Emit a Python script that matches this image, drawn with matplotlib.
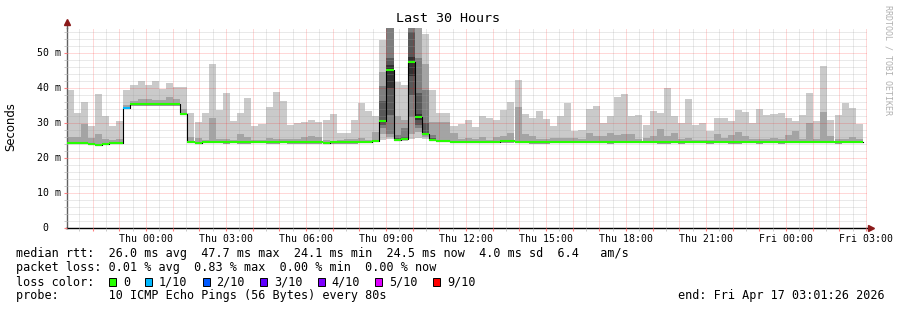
import numpy as np
import matplotlib
matplotlib.use('Agg')
import matplotlib.pyplot as plt
import matplotlib.dates as mdates
from matplotlib import transforms
from matplotlib.patches import Rectangle
from matplotlib.ticker import MultipleLocator, FuncFormatter
from datetime import datetime, timedelta

plt.rcParams['font.family'] = 'DejaVu Sans Mono'

# smokeping bins: 16 min each over the last 30 hours
start = datetime(2026, 4, 15, 21, 1, 26)
end = datetime(2026, 4, 17, 3, 1, 26)
bin_minutes = 16

# median rtt per bin (ms)
rtt_median = [
    24.2, 24.2, 24.3, 24.1, 23.8, 24.0, 24.2, 24.2,
    34.3, 35.5, 35.4, 35.4, 35.4, 35.4, 35.4, 35.4,
    32.7, 24.7, 24.4, 24.5, 24.6, 24.5, 24.5, 24.6,
    24.5, 24.5, 24.6, 24.6, 24.5, 24.5, 24.6, 24.5,
    24.5, 24.5, 24.5, 24.5, 24.4, 24.5, 24.5, 24.5,
    24.5, 24.6, 24.6, 24.9, 30.6, 45.2, 25.2, 25.4,
    47.5, 31.8, 26.9, 25.2, 25.0, 25.0, 24.7, 24.6,
    24.6, 24.6, 24.7, 24.6, 24.6, 24.8, 24.8, 24.6,
    24.6, 24.5, 24.5, 24.5, 24.7, 24.6, 24.6, 24.6,
    24.6, 24.6, 24.6, 24.6, 24.5, 24.6, 24.6, 24.6,
    24.6, 24.6, 24.6, 24.6, 24.7, 24.6, 24.5, 24.6,
    24.6, 24.6, 24.7, 24.7, 24.6, 24.5, 24.6, 24.6,
    24.5, 24.6, 24.6, 24.7, 24.6, 24.6, 24.5, 24.6,
    24.6, 24.5, 24.6, 24.6, 24.6, 24.5, 24.6, 24.6,
]

# fastest ping per bin
rtt_min = [
    23.9, 23.9, 23.9, 23.8, 23.5, 23.7, 23.9, 23.9,
    33.9, 35.0, 35.0, 35.0, 35.0, 35.0, 35.0, 35.0,
    32.3, 24.3, 24.1, 24.2, 24.2, 24.2, 24.1, 24.2,
    24.1, 24.1, 24.2, 24.2, 24.1, 24.1, 24.2, 24.1,
    24.1, 24.1, 24.1, 24.1, 24.0, 24.1, 24.1, 24.1,
    24.1, 24.2, 24.2, 24.5, 25.1, 25.5, 24.8, 24.9,
    25.5, 25.8, 25.5, 24.8, 24.6, 24.6, 24.3, 24.2,
    24.2, 24.2, 24.3, 24.2, 24.2, 24.4, 24.4, 24.2,
    24.2, 24.1, 24.1, 24.1, 24.3, 24.2, 24.2, 24.2,
    24.2, 24.2, 24.2, 24.2, 24.1, 24.2, 24.2, 24.2,
    24.2, 24.2, 24.2, 24.1, 24.1, 24.2, 24.0, 24.2,
    24.2, 24.3, 24.1, 24.2, 24.2, 24.1, 24.1, 24.2,
    24.2, 24.1, 24.2, 24.2, 24.1, 24.2, 24.2, 24.2,
    24.3, 24.2, 24.2, 24.2, 24.1, 24.2, 24.2, 24.2,
]

# second slowest ping per bin
rtt_p9 = [
    26.1, 26.1, 29.7, 25.8, 26.9, 25.4, 25.1, 25.4,
    35.2, 36.4, 36.9, 36.9, 36.5, 36.5, 37.3, 36.9,
    33.9, 26.1, 25.8, 25.1, 31.4, 25.4, 25.4, 25.1,
    26.9, 26.1, 25.1, 25.1, 25.8, 25.4, 25.4, 25.4,
    25.4, 26.1, 26.4, 26.1, 25.1, 24.9, 25.1, 25.4,
    25.4, 25.6, 25.1, 27.5, 44.7, 62.0, 32.0, 31.0,
    61.0, 58.0, 47.0, 30.4, 30.4, 30.4, 27.2, 25.4,
    25.8, 25.4, 26.1, 25.1, 26.1, 26.4, 27.2, 34.7,
    27.0, 26.4, 25.4, 25.4, 25.8, 25.8, 25.8, 25.8,
    25.4, 27.2, 26.4, 26.4, 27.2, 26.7, 27.0, 27.0,
    25.4, 25.8, 26.4, 28.3, 26.4, 27.2, 25.4, 25.8,
    25.1, 25.1, 25.1, 27.0, 25.8, 26.7, 27.5, 26.4,
    25.4, 25.4, 25.4, 25.8, 25.4, 26.6, 27.7, 25.4,
    29.9, 25.4, 33.1, 26.4, 25.4, 25.4, 26.1, 25.4,
]

# slowest ping per bin
rtt_max = [
    39.4, 33.0, 36.0, 29.2, 38.3, 32.0, 29.2, 30.6,
    39.4, 40.9, 42.0, 40.9, 42.0, 39.8, 41.4, 40.3,
    40.3, 32.9, 30.3, 33.0, 46.9, 33.7, 38.5, 30.5,
    32.9, 37.1, 29.2, 29.8, 34.5, 38.9, 36.3, 29.5,
    29.9, 30.3, 30.9, 30.3, 31.0, 32.6, 27.2, 27.2,
    30.9, 35.7, 33.4, 32.1, 53.8, 66.0, 41.8, 41.0,
    64.0, 64.0, 55.4, 39.4, 33.0, 32.8, 29.2, 29.8,
    30.9, 29.0, 32.0, 31.4, 30.9, 33.8, 36.0, 42.3,
    32.6, 31.4, 33.4, 31.1, 29.2, 32.0, 35.7, 27.7,
    28.0, 34.0, 34.9, 29.9, 32.0, 37.5, 38.3, 32.0,
    32.3, 29.5, 33.4, 32.9, 40.0, 32.0, 30.0, 36.9,
    29.5, 30.0, 27.7, 31.4, 31.4, 30.6, 33.8, 33.1,
    30.0, 34.0, 32.3, 32.6, 32.9, 31.4, 30.6, 32.3,
    38.6, 30.6, 46.3, 30.9, 32.3, 35.7, 34.3, 29.8,
]

# all 10 sorted pings for the bins around the 09:00-10:00 spikes
spike_pings = {
    44: [25.1, 27.0, 28.5, 29.5, 30.3, 31.0, 36.3, 40.6, 44.7, 53.8],
    45: [25.5, 26.0, 27.0, 32.3, 40.0, 46.5, 48.5, 58.0, 62.0, 66.0],
    46: [24.8, 25.0, 25.1, 25.2, 25.2, 25.3, 25.8, 26.5, 32.0, 41.8],
    47: [24.9, 25.1, 25.2, 25.3, 25.4, 25.5, 26.0, 28.5, 31.0, 41.0],
    48: [25.5, 27.0, 31.8, 38.0, 43.5, 49.0, 56.0, 58.5, 61.0, 64.0],
    49: [25.8, 27.5, 28.5, 29.5, 31.0, 32.5, 38.5, 48.5, 58.0, 64.0],
    50: [25.5, 26.0, 26.5, 26.8, 26.9, 27.0, 30.0, 39.5, 47.0, 55.4],
    51: [24.8, 25.0, 25.1, 25.2, 25.2, 25.3, 25.6, 26.6, 30.4, 39.4],
}

# lost pings out of 10 per bin
loss = [0] * 112
loss[8] = 1

loss_labels = ['0', '1/10', '2/10', '3/10', '4/10', '5/10', '9/10']
loss_colors = ['#26ff00', '#00b8ff', '#0059ff', '#5e00ff', '#7e00ff', '#dd00ff', '#ff0000']

legend_rows = [
    'median rtt:  26.0 ms avg  47.7 ms max  24.1 ms min  24.5 ms now  4.0 ms sd  6.4   am/s',
    'packet loss: 0.01 % avg  0.83 % max  0.00 % min  0.00 % now',
    'loss color:',
    'probe:       10 ICMP Echo Pings (56 Bytes) every 80s',
]
end_label = 'end: Fri Apr 17 03:01:26 2026'

W, H = 897, 310
fig = plt.figure(figsize=(W / 100, H / 100), dpi=100)
fig.patch.set_facecolor('white')
ax = fig.add_axes([66.5 / W, 82 / H, 800 / W, 200 / H])

n = len(rtt_median)
assert len(rtt_min) == n and len(rtt_max) == n and len(rtt_p9) == n
edges = mdates.date2num([start + timedelta(minutes=bin_minutes * i) for i in range(n + 1)])
left = edges[:-1]
width = np.diff(edges)

# smoke: layer k spans ping k .. ping 10-k, darker toward the middle
smoke_colors = ['#cacaca', '#a4a4a4', '#7e7e7e', '#585858', '#323232']
lo = np.zeros((5, n))
hi = np.zeros((5, n))
for i in range(n):
    if i in spike_pings:
        p = spike_pings[i]
        for k in range(5):
            lo[k, i], hi[k, i] = p[k], p[9 - k]
    else:
        lo[0, i], hi[0, i] = rtt_min[i], rtt_max[i]
        lo[1, i], hi[1, i] = rtt_min[i], rtt_p9[i]
for k in range(5):
    ax.bar(left, hi[k] - lo[k], width=width, bottom=lo[k], align='edge',
           color=smoke_colors[k], linewidth=0, antialiased=False, zorder=1)

# median: black step line, then loss coloured bars
med = np.array(rtt_median)
ax.step(edges, np.append(med, med[-1]), where='post', color='#000000', lw=0.8, zorder=3)
ax.hlines(med, left, edges[1:], colors=[loss_colors[l] for l in loss], lw=1.5, zorder=4)

ax.set_xlim(mdates.date2num(start), mdates.date2num(end))
ax.set_ylim(0, 200 / 3.5)

ax.xaxis.set_major_locator(mdates.HourLocator())
ax.xaxis.set_minor_locator(mdates.MinuteLocator(byminute=[30]))


def hour_label(v, pos):
    d = mdates.num2date(v)
    return d.strftime('%a %H:%M') if d.hour % 3 == 0 else ''


ax.xaxis.set_major_formatter(FuncFormatter(hour_label))
ax.yaxis.set_major_locator(MultipleLocator(10))
ax.yaxis.set_minor_locator(MultipleLocator(2))

ax.set_axisbelow(False)
ax.grid(which='major', color='#ff0000', alpha=0.3, linestyle=(0, (1, 1)), linewidth=0.72)
ax.grid(which='minor', color='#a0a0a0', alpha=0.45, linestyle=(0, (1, 1)), linewidth=0.72)

ax.tick_params(axis='x', which='major', length=2, color='#ff8080', labelsize=7.1, pad=2)
ax.tick_params(axis='x', which='minor', length=2, color='#c0c0c0')
ax.tick_params(axis='y', which='major', length=2, color='#ff8080', labelleft=False)
ax.tick_params(axis='y', which='minor', length=2, color='#c0c0c0')

for s in ['top', 'right']:
    ax.spines[s].set_visible(False)
ax.spines['bottom'].set_color('#000000')
ax.spines['bottom'].set_linewidth(1.0)
ax.spines['left'].set_color('#606060')
ax.spines['left'].set_linewidth(1.0)

# axis extensions with arrows
ax.plot([1, 1.004], [0, 0], color='#000000', lw=1.0, transform=ax.transAxes, clip_on=False)
ax.plot([0, 0], [1, 1.025], color='#606060', lw=1.0, transform=ax.transAxes, clip_on=False)
ax.plot([1.006], [0], marker='>', ms=4, color='#8b1a1a', transform=ax.transAxes, clip_on=False)
ax.plot([0], [1.028], marker='^', ms=4, color='#8b1a1a', transform=ax.transAxes, clip_on=False)

# y tick labels, right aligned like rrdtool
ytrans = transforms.blended_transform_factory(fig.transFigure, ax.transData)
for v in ax.get_yticks():
    if v < 0 or v > 57:
        continue
    if v == 0:
        ax.text(48.5 / W, v, '0', transform=ytrans, ha='right', va='center', fontsize=7.1)
    else:
        ax.text(60.5 / W, v, '%d m' % v, transform=ytrans, ha='right', va='center', fontsize=7.1)

fig.text(448 / W, 1 - 19 / H, 'Last 30 Hours', ha='center', va='center', fontsize=9.6)
fig.text(11 / W, 1 - 127 / H, 'Seconds', ha='center', va='center', rotation=90,
         fontsize=8.4, family='DejaVu Sans')
fig.text(887.5 / W, 1 - 5 / H, 'RRDTOOL / TOBI OETIKER', ha='center', va='top', rotation=270,
         fontsize=6, color='#b0b0b0')

row_y = [254, 268, 282, 296]
for txt, y in zip(legend_rows, row_y):
    fig.text(16 / W, 1 - y / H, txt, ha='left', va='center', fontsize=8.5)
fig.text(678 / W, 1 - row_y[3] / H, end_label, ha='left', va='center', fontsize=8.5)

bx = 109
for lab, col in zip(loss_labels, loss_colors):
    fig.patches.append(Rectangle((bx / W, 1 - (row_y[2] + 4) / H), 7 / W, 8 / H,
                                 transform=fig.transFigure, facecolor=col,
                                 edgecolor='#000000', lw=0.7))
    fig.text((bx + 14) / W, 1 - row_y[2] / H, lab, ha='left', va='center', fontsize=8.5)
    bx += (len(lab) + 4) * 7.2

fig.savefig('out.png', dpi=100, facecolor='white')
